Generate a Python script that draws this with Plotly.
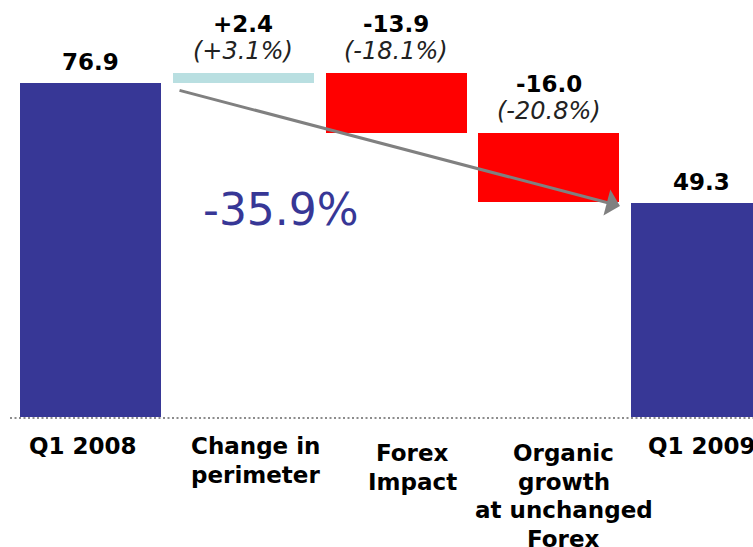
import plotly.graph_objects as go

# Revenue bridge, Q1 2008 -> Q1 2009 (EUR m)
categories = ["Q1 2008", "Change in<br>perimeter", "Forex<br>Impact",
              "Organic<br>growth<br>at unchanged<br>Forex", "Q1 2009"]
start_value = 76.9
deltas = [2.4, -13.9, -16.0]
end_value = 49.3

# Colours
BLUE = "#373796"
TEAL = "#B9DFE1"
RED = "#FF0000"
ARROW_GREY = "#808080"

# Build stacked waterfall geometry from the data
heights, bases, colors, value_text, pct_text = [], [], [], [], []
heights.append(start_value); bases.append(0); colors.append(BLUE)
value_text.append(f"{start_value:.1f}"); pct_text.append("")
running = start_value
for d in deltas:
    if d >= 0:
        bases.append(running); colors.append(TEAL)
    else:
        bases.append(running + d); colors.append(RED)
    heights.append(abs(d))
    value_text.append(f"{d:+.1f}")
    pct_text.append(f"({d / start_value * 100:+.1f}%)")
    running += d
heights.append(end_value); bases.append(0); colors.append(BLUE)
value_text.append(f"{end_value:.1f}"); pct_text.append("")
tops = [b + h for b, h in zip(bases, heights)]
overall_change = (end_value / start_value - 1) * 100

idx = list(range(len(categories)))

fig = go.Figure()
fig.add_trace(go.Bar(
    x=idx, y=heights, base=bases,
    marker=dict(color=colors, line=dict(width=0)),
    width=0.923, hoverinfo="skip", showlegend=False,
))

annotations = []
BOLD = dict(family="DejaVu Sans", size=23, color="#000000", weight="bold")
ITAL = dict(family="DejaVu Sans", size=24, color="#222222", style="italic")

# Value and percentage labels above each bar
for i in idx:
    shift = 6
    if pct_text[i]:
        annotations.append(dict(x=i, y=tops[i], xref="x", yref="y", text=pct_text[i],
                                showarrow=False, yanchor="bottom", yshift=shift, font=ITAL))
        shift += 28
    annotations.append(dict(x=i, y=tops[i], xref="x", yref="y", text=value_text[i],
                            showarrow=False, yanchor="bottom", yshift=shift, font=BOLD))

# Category labels below the baseline, one annotation per line
label_xshift = [-8, 12, 16, 15, 0]
label_first_line = [-29, -29, -36, -36, -29]
LINE_PITCH = 28.5
for i, lab in enumerate(categories):
    for j, line in enumerate(lab.split("<br>")):
        annotations.append(dict(x=i, y=0, xref="x", yref="y", text=line, showarrow=False,
                                yanchor="middle", xshift=label_xshift[i],
                                yshift=label_first_line[i] - j * LINE_PITCH, font=BOLD))

# Overall change arrow and label
annotations.append(dict(x=3.466, y=48.6, ax=0.573, ay=75.3, xref="x", yref="y",
                        axref="x", ayref="y", text="", showarrow=True,
                        arrowhead=1, arrowsize=1.5, arrowwidth=3, arrowcolor=ARROW_GREY))
annotations.append(dict(x=1.247, y=47.7, xref="x", yref="y", text=f"{overall_change:.1f}%",
                        showarrow=False, font=dict(family="DejaVu Sans", size=44, color=BLUE)))

fig.update_layout(
    width=753, height=547,
    margin=dict(l=0, r=0, t=0, b=0),
    paper_bgcolor="white", plot_bgcolor="white",
    xaxis=dict(range=[-0.5925, 4.337], visible=False, fixedrange=True),
    yaxis=dict(range=[-29.93, 96.02], visible=False, fixedrange=True),
    annotations=annotations,
    shapes=[dict(type="line", xref="x", yref="y", x0=-0.527, x1=4.4, y0=-0.2, y1=-0.2,
                 line=dict(color="#8c8c8c", width=2, dash="2px,2.5px"), layer="above")],
    bargap=0,
)

fig.write_html("out.html")
